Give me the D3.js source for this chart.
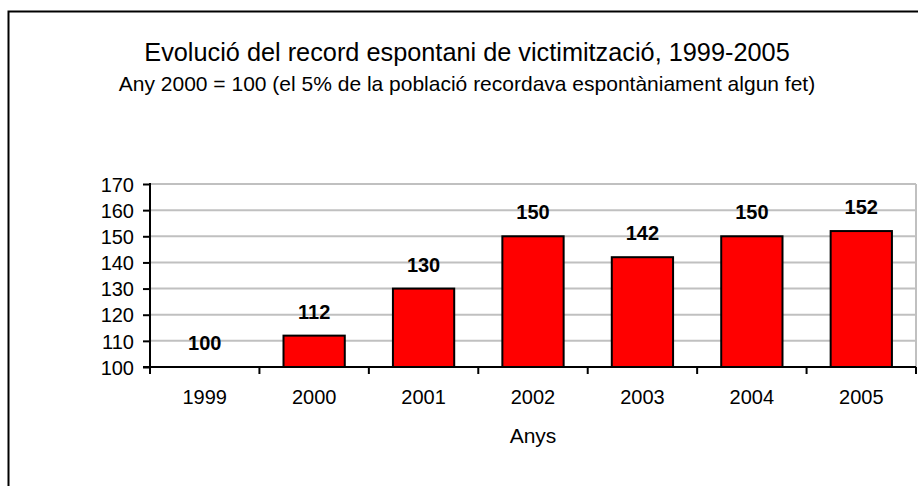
<!DOCTYPE html>
<html>
<head>
<meta charset="utf-8">
<script src="https://cdn.jsdelivr.net/npm/d3@7"></script>
<style>
  body { margin: 0; background: #fff; }
  text { font-family: Arial, "Liberation Sans", sans-serif; }
</style>
</head>
<body>
<script>
// data
var years = ["1999", "2000", "2001", "2002", "2003", "2004", "2005"];
var values = [100, 112, 130, 150, 142, 150, 152];
var yTicks = [100, 110, 120, 130, 140, 150, 160, 170];

var W = 918, H = 486;
var plotL = 150, plotR = 916, plotT = 184, plotB = 367;

var svg = d3.select("body").append("svg")
    .attr("width", W)
    .attr("height", H);

// outer frame
svg.append("rect")
    .attr("x", 8.5).attr("y", 11.5)
    .attr("width", W).attr("height", H)
    .attr("fill", "#fff")
    .attr("stroke", "#000")
    .attr("stroke-width", 2);

var x = d3.scaleBand().domain(years).range([plotL, plotR]).paddingInner(0.44).paddingOuter(0.22);
var xb = d3.scaleBand().domain(years).range([plotL, plotR]);
var y = d3.scaleLinear().domain([100, 170]).range([plotB, plotT]);

// gridlines
svg.append("g").selectAll("line")
    .data(yTicks.slice(1))
    .join("line")
    .attr("x1", plotL).attr("x2", plotR)
    .attr("y1", function(d){ return y(d); })
    .attr("y2", function(d){ return y(d); })
    .attr("stroke", "#c0c0c0")
    .attr("stroke-width", 2);

// right border of plot
svg.append("line")
    .attr("x1", plotR).attr("x2", plotR)
    .attr("y1", plotT).attr("y2", plotB)
    .attr("stroke", "#c0c0c0")
    .attr("stroke-width", 2);

// bars
svg.append("g").selectAll("rect")
    .data(values)
    .join("rect")
    .attr("x", function(d, i){ return x(years[i]); })
    .attr("width", x.bandwidth())
    .attr("y", function(d){ return y(d); })
    .attr("height", function(d){ return y(100) - y(d); })
    .attr("fill", "#ff0000")
    .attr("stroke", "#000")
    .attr("stroke-width", 2);

// value labels
svg.append("g").selectAll("text")
    .data(values)
    .join("text")
    .attr("x", function(d, i){ return xb(years[i]) + xb.bandwidth() / 2; })
    .attr("y", function(d){ return y(d) - 17; })
    .attr("text-anchor", "middle")
    .attr("font-size", 20)
    .attr("font-weight", "bold")
    .text(function(d){ return d; });

// y axis
var yAxis = svg.append("g")
    .attr("transform", "translate(" + plotL + ",0)")
    .call(d3.axisLeft(y).tickValues(yTicks).tickSize(7).tickPadding(9));
yAxis.selectAll("text").attr("font-size", 20).attr("fill", "#000").attr("dy", "0.36em")
    .style("font-family", "Arial, 'Liberation Sans', sans-serif");
yAxis.selectAll("line").attr("stroke", "#000").attr("stroke-width", 2);
yAxis.select(".domain").attr("stroke", "#000").attr("stroke-width", 2)
    .attr("d", "M0," + (plotT - 1) + "V" + (plotB + 7));

// x axis
var xAxis = svg.append("g")
    .attr("transform", "translate(0," + plotB + ")");
xAxis.append("line")
    .attr("x1", plotL - 7).attr("x2", plotR)
    .attr("stroke", "#000").attr("stroke-width", 2);
xAxis.selectAll("line.tick")
    .data(years)
    .join("line")
    .attr("class", "tick")
    .attr("x1", function(d){ return xb(d) + xb.bandwidth(); })
    .attr("x2", function(d){ return xb(d) + xb.bandwidth(); })
    .attr("y1", 0).attr("y2", 7)
    .attr("stroke", "#000").attr("stroke-width", 2);
xAxis.selectAll("text")
    .data(years)
    .join("text")
    .attr("x", function(d){ return xb(d) + xb.bandwidth() / 2; })
    .attr("y", 37)
    .attr("text-anchor", "middle")
    .attr("font-size", 20)
    .text(function(d){ return d; });

// axis title
svg.append("text")
    .attr("x", (plotL + plotR) / 2)
    .attr("y", 443)
    .attr("text-anchor", "middle")
    .attr("font-size", 21)
    .text("Anys");

// titles
svg.append("text")
    .attr("x", 467)
    .attr("y", 61)
    .attr("text-anchor", "middle")
    .attr("font-size", 25.3)
    .text("Evolució del record espontani de victimització, 1999-2005");

svg.append("text")
    .attr("x", 467)
    .attr("y", 91)
    .attr("text-anchor", "middle")
    .attr("font-size", 21)
    .text("Any 2000 = 100 (el 5% de la població recordava espontàniament algun fet)");
</script>
</body>
</html>
